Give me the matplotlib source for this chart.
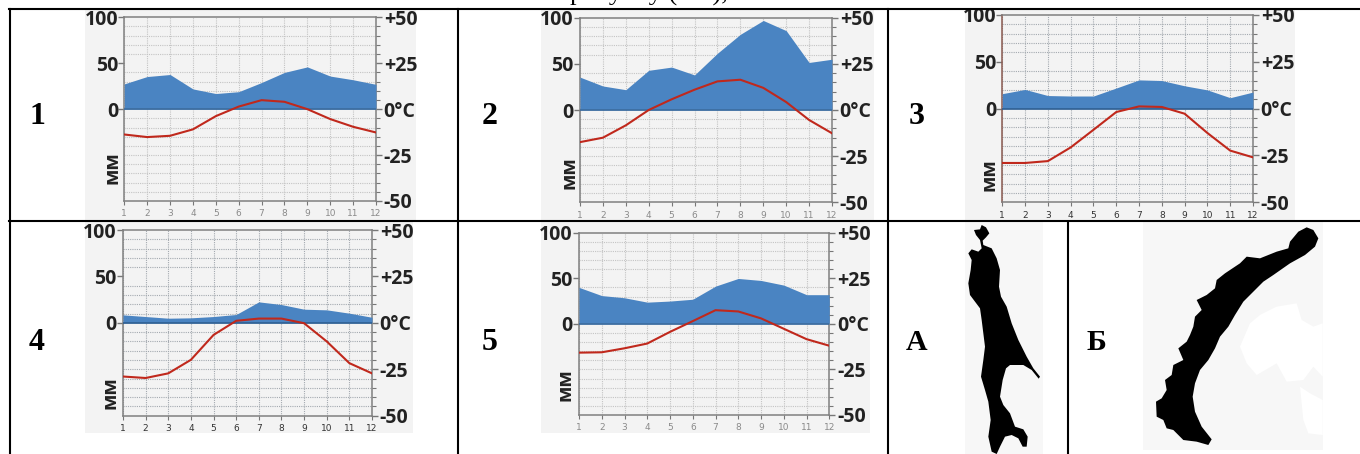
import matplotlib
matplotlib.use("Agg")
import matplotlib.pyplot as plt
from matplotlib.patches import Polygon, Rectangle

W, H = 1360, 454

months = list(range(1, 13))

# precipitation, mm
precip_1 = [27.5, 35.5, 37.7, 22, 17, 19, 29, 40, 46, 36, 32, 27]
precip_2 = [35.6, 26, 22, 43, 46.5, 38, 61.5, 82, 97, 86, 51.5, 55]
precip_3 = [16, 20.5, 14, 13.5, 13.5, 22, 30.7, 30, 24.4, 20, 11.7, 17.7]
precip_4 = [8.6, 6.8, 5, 5.4, 6.8, 9, 22.6, 19.7, 14.7, 14, 10.4, 6]
precip_5 = [40, 31, 28.6, 23.8, 25, 27, 41.4, 49.8, 47.6, 42.5, 32, 32]

# temperature, deg C
temp_1 = [-13.8, -15.2, -14.5, -11, -3.8, 1.4, 4.9, 4, 0, -5.4, -9.6, -12.7]
temp_2 = [-17.4, -15, -8.3, 0, 5.8, 11, 15.5, 16.4, 12, 4.3, -5.4, -12.6]
temp_3 = [-29, -29, -28, -20.7, -11.3, -1.8, 1.2, 0.9, -2.7, -13, -22.4, -26]
temp_4 = [-28.9, -29.7, -27.2, -19.9, -6.5, 1.1, 2.3, 2.3, -0.2, -10, -21.7, -27.2]
temp_5 = [-15.8, -15.6, -13.4, -10.8, -4.4, 1.5, 7.5, 6.8, 3, -2.7, -8.4, -12]

left_ticks = [100, 50, 0]
left_labels = ["100", "50", "0"]
right_ticks = [50, 25, 0, -25, -50]
right_labels = ["+50", "+25", "0°C", "-25", "-50"]

# outlines of the pictures, traced on a 3x crop starting at (900, 220)
shape_a = [(222, 30), (240, 28), (245, 15), (258, 22), (268, 40), (258, 52), (248, 62), (250, 75),
           (275, 85), (290, 115), (300, 150), (297, 200), (303, 230), (320, 260), (335, 310), (355, 360),
           (380, 410), (400, 445), (420, 470), (416, 476), (395, 450), (370, 435), (330, 435), (318, 445),
           (308, 480), (300, 530), (310, 555), (330, 580), (345, 620), (370, 628), (383, 650), (380, 680),
           (368, 680), (355, 655), (335, 645), (315, 650), (300, 680), (290, 702), (275, 695), (265, 650),
           (272, 600), (265, 545), (255, 510), (243, 470), (250, 420), (255, 380), (245, 300), (240, 265),
           (210, 225), (205, 190), (212, 150), (215, 120), (205, 100), (215, 88), (235, 95), (245, 85),
           (240, 60), (228, 45)]
shape_b = [(1195, 35), (1220, 22), (1240, 30), (1255, 55), (1245, 80), (1215, 105), (1170, 130),
           (1120, 165), (1090, 185), (1060, 215), (1030, 245), (1005, 285), (985, 320), (960, 350),
           (945, 385), (925, 420), (900, 450), (885, 490), (878, 530), (885, 575), (905, 620), (935, 658),
           (925, 675), (890, 665), (850, 660), (820, 630), (800, 625), (790, 600), (770, 590), (768, 545),
           (785, 535), (800, 510), (795, 480), (815, 465), (820, 435), (850, 420), (835, 385), (860, 365),
           (870, 345), (880, 320), (885, 290), (905, 270), (890, 240), (920, 225), (945, 205), (950, 180),
           (975, 160), (1020, 130), (1040, 110), (1080, 115), (1130, 95), (1165, 85), (1170, 65)]
smear_1 = [(1020, 380), (1050, 310), (1080, 285), (1130, 260), (1190, 250), (1205, 300), (1240, 320),
           (1268, 310), (1268, 470), (1240, 440), (1210, 480), (1160, 485), (1130, 430), (1070, 465),
           (1040, 430)]
smear_2 = [(1200, 500), (1230, 520), (1268, 540), (1268, 645), (1225, 640), (1210, 600)]


def px_axes(fig, x0, y0, x1, y1, **kw):
    # axes given by page pixels, y counted from the top
    return fig.add_axes([x0 / W, 1 - y1 / H, (x1 - x0) / W, (y1 - y0) / H], **kw)


def crop_to_page(points):
    return [(900 + x / 3, 220 + y / 3) for x, y in points]


def climate_panel(fig, bg, box, precip, temp, num, num_x, num_y, mm_pos, sharp=False):
    px_bg = px_axes(fig, *bg)
    px_bg.set_facecolor("#f3f3f3")
    px_bg.set_xticks([])
    px_bg.set_yticks([])
    for s in px_bg.spines.values():
        s.set_visible(False)

    grid_col = "#a4aab0" if sharp else "#c4c4c4"
    label_font = dict(fontsize=14, fontweight="bold", family="Open Sans", color="#222222")

    x0, y0, x1, y1 = box
    ax = px_axes(fig, x0, y0, x1, y1)
    ax.patch.set_alpha(0)
    ax.set_xlim(1, 12)
    ax.set_ylim(-100, 100)
    ax.fill_between(months, 0, precip, color="#4a84c2", lw=0, zorder=3)
    ax.axhline(0, color="#2f5f92" if sharp else "#3c6c9e", lw=1.2, zorder=4)

    ax.set_xticks(months)
    ax.set_yticks(list(range(-90, 100, 10)), minor=True)
    ax.grid(True, axis="x", color=grid_col, lw=0.8, ls=(0, (1, 1)), zorder=1)
    ax.grid(True, axis="y", which="minor", color=grid_col, lw=0.8, ls=(0, (1, 1)), zorder=1)
    ax.set_yticks(left_ticks)
    ax.set_yticklabels(left_labels, **label_font)
    ax.tick_params(axis="y", which="major", length=4.5, width=1, color="#777777", pad=0)
    ax.tick_params(axis="y", which="minor", length=0)
    ax.tick_params(axis="x", length=3, width=0.8, color="#777777", pad=3,
                   labelsize=6.5, labelcolor="#333333" if sharp else "#8a8a8a")
    for s in ["left", "right", "bottom", "top"]:
        ax.spines[s].set_color("#808080")
        ax.spines[s].set_linewidth(1.1)
    if num == "3":
        ax.spines["left"].set_color("#8a5a50")

    ax2 = ax.twinx()
    ax2.set_ylim(-50, 50)
    ax2.set_yticks(right_ticks)
    ax2.set_yticklabels(right_labels, **label_font)
    ax2.set_yticks(list(range(-45, 50, 5)), minor=True)
    ax2.tick_params(axis="y", which="major", length=4.5, width=1, color="#777777", pad=1)
    ax2.tick_params(axis="y", which="minor", length=3, width=0.8, color="#777777")
    for s in ax2.spines.values():
        s.set_visible(False)
    ax2.plot(months, temp, color="#c0281c", lw=1.5, zorder=5)

    ax.text(mm_pos[0], mm_pos[1], "мм", transform=ax.transAxes, rotation=90, ha="center", va="center",
            fontsize=14, fontweight="bold", family="Open Sans", color="#222222")
    fig.text(num_x / W, 1 - num_y / H, num, ha="center", va="center", fontsize=23,
             fontweight="bold", family="Liberation Serif", color="black")


fig = plt.figure(figsize=(W / 100, H / 100), dpi=100, facecolor="white")

climate_panel(fig, (85, 9, 416, 222), (124.3, 17.3, 376, 201), precip_1, temp_1, "1", 37, 116, (-0.045, 0.18))
climate_panel(fig, (541, 9, 874, 222), (580, 17.7, 832, 202.3), precip_2, temp_2, "2", 490, 116, (-0.04, 0.16))
climate_panel(fig, (965, 9, 1295, 222), (1002.3, 15, 1253, 202.3), precip_3, temp_3, "3", 917, 116, (-0.053, 0.146), True)
climate_panel(fig, (85, 222, 413, 433), (123, 230, 372, 415.7), precip_4, temp_4, "4", 37, 342, (-0.052, 0.124), True)
climate_panel(fig, (541, 222, 870, 433), (579, 232.7, 829.3, 415), precip_5, temp_5, "5", 490, 342, (-0.052, 0.164))

# page overlay for table lines, pictures and loose text
page = fig.add_axes([0, 0, 1, 1], zorder=10)
page.set_xlim(0, W)
page.set_ylim(H, 0)
page.axis("off")
page.patch.set_alpha(0)

page.add_patch(Rectangle((965, 222), 78, 232, color="#f7f7f7", lw=0))
page.add_patch(Rectangle((1143, 222), 180, 228, color="#f7f7f7", lw=0))
page.add_patch(Polygon(crop_to_page(smear_1), closed=True, color="white", lw=0))
page.add_patch(Polygon(crop_to_page(smear_2), closed=True, color="white", lw=0))
page.add_patch(Polygon(crop_to_page(shape_a), closed=True, color="black", lw=0))
page.add_patch(Polygon(crop_to_page(shape_b), closed=True, color="black", lw=0))

page.plot([9, 1360], [9, 9], color="black", lw=1.5)
page.plot([9, 1360], [221, 221], color="black", lw=1.5)
page.plot([9.5, 9.5], [9, 454], color="black", lw=1.5)
page.plot([457.5, 457.5], [9, 454], color="black", lw=1.5)
page.plot([887.7, 887.7], [9, 454], color="black", lw=1.5)
page.plot([1067.7, 1067.7], [222, 454], color="black", lw=1.5)

page.text(917, 343, "А", ha="center", va="center", fontsize=21.5, fontweight="bold", family="Liberation Serif")
page.text(1096, 343, "Б", ha="center", va="center", fontsize=21.5, fontweight="bold", family="Liberation Serif")
# the line above the table is cut by the top of the picture
page.text(649, 1, "рисунку (1-5),", ha="center", va="baseline", fontsize=19, family="Liberation Serif")

fig.savefig("out.png", dpi=100)
